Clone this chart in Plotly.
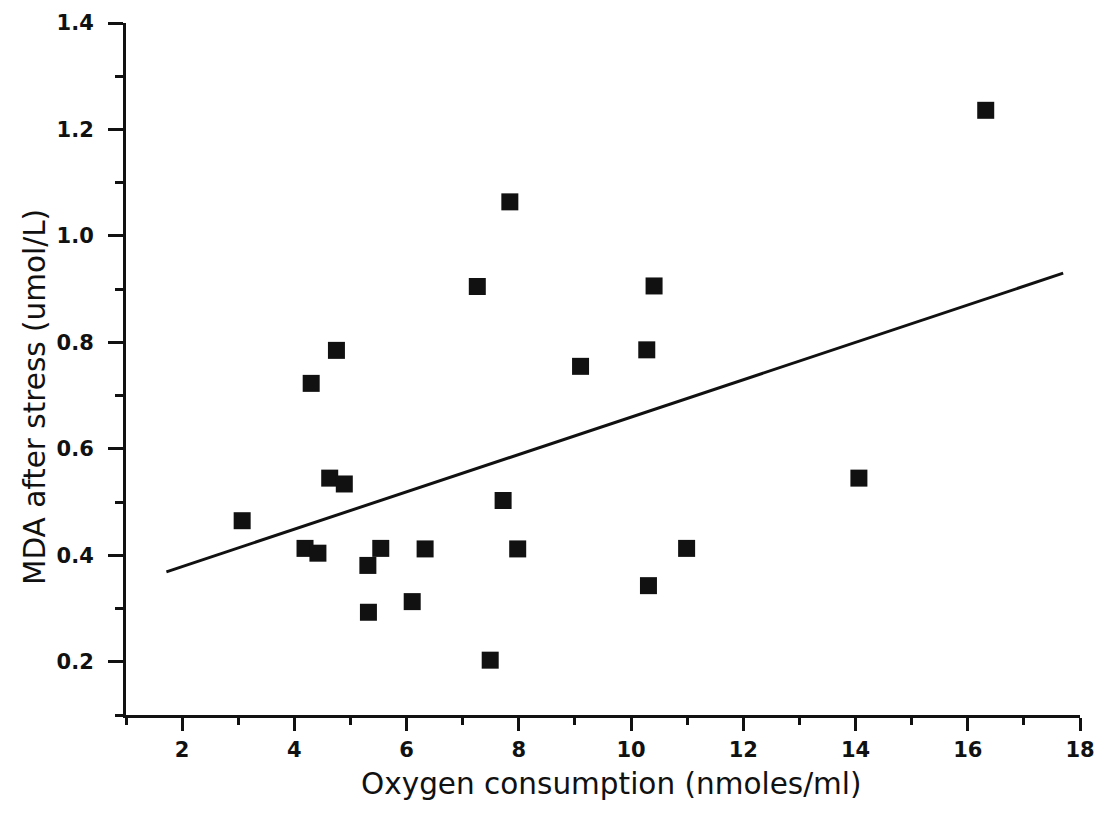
import plotly.graph_objects as go

# Data
oxygen = [3.07, 4.19, 4.42, 4.30, 4.75, 4.63, 4.89, 5.31, 5.32, 5.54, 6.10, 6.33,
          7.26, 7.49, 7.72, 7.84, 7.98, 9.10, 10.28, 10.41, 10.31, 10.99, 14.06, 16.32]
mda = [0.465, 0.413, 0.404, 0.723, 0.785, 0.545, 0.534, 0.381, 0.293, 0.413, 0.313, 0.412,
       0.905, 0.203, 0.503, 1.064, 0.412, 0.755, 0.786, 0.906, 0.343, 0.413, 0.545, 1.236]

fit_x = [1.72, 17.70]
fit_y = [0.369, 0.930]

x_ticks = [2, 4, 6, 8, 10, 12, 14, 16, 18]
y_ticks = [0.2, 0.4, 0.6, 0.8, 1.0, 1.2, 1.4]
y_tick_text = ["0.2", "0.4", "0.6", "0.8", "1.0", "1.2", "1.4"]
x_title = "Oxygen consumption (nmoles/ml)"
y_title = "MDA after stress (umol/L)"

fig = go.Figure()
fig.add_trace(go.Scatter(x=fit_x, y=fit_y, mode="lines",
                         line=dict(color="#111111", width=3), showlegend=False))
fig.add_trace(go.Scatter(x=oxygen, y=mda, mode="markers",
                         marker=dict(symbol="square", size=17, color="#111111",
                                     line=dict(width=0)), showlegend=False))

tick_font = dict(size=21, family="DejaVu Sans, sans-serif", weight="bold", color="#111111")
title_font = dict(size=29.5, family="DejaVu Sans, sans-serif", color="#111111")

fig.update_layout(
    width=1112, height=822,
    margin=dict(l=118, r=40, t=15, b=115, autoexpand=False),
    paper_bgcolor="white", plot_bgcolor="white",
    font=dict(family="DejaVu Sans, sans-serif", color="#111111"),
    annotations=[
        dict(text=x_title, xref="paper", yref="paper", x=0.5094, y=-0.099,
             xanchor="center", yanchor="middle", showarrow=False, font=title_font),
        dict(text=y_title, xref="paper", yref="paper", x=0, y=0.4595, xshift=-91,
             xanchor="center", yanchor="middle", textangle=-90, showarrow=False,
             font=title_font),
    ],
)
fig.update_xaxes(
    range=[1, 18], tickvals=x_ticks, ticktext=[str(v) for v in x_ticks],
    automargin=False,
    showgrid=False, zeroline=False, showline=True, linecolor="#111111", linewidth=3,
    ticks="outside", ticklen=13, tickwidth=3, tickcolor="#111111",
    tickfont=tick_font, ticklabelstandoff=1,
    minor=dict(tickvals=[1, 3, 5, 7, 9, 11, 13, 15, 17], ticks="outside", ticklen=7,
               tickwidth=3, tickcolor="#111111", showgrid=False),
)
fig.update_yaxes(
    range=[0.1, 1.4], tickvals=y_ticks, ticktext=y_tick_text,
    automargin=False,
    showgrid=False, zeroline=False, showline=True, linecolor="#111111", linewidth=3,
    ticks="outside", ticklen=15, tickwidth=3, tickcolor="#111111",
    tickfont=tick_font, ticklabelstandoff=10,
    minor=dict(tickvals=[0.1, 0.3, 0.5, 0.7, 0.9, 1.1, 1.3], ticks="outside", ticklen=8,
               tickwidth=3, tickcolor="#111111", showgrid=False),
)

fig.write_html("out.html")
